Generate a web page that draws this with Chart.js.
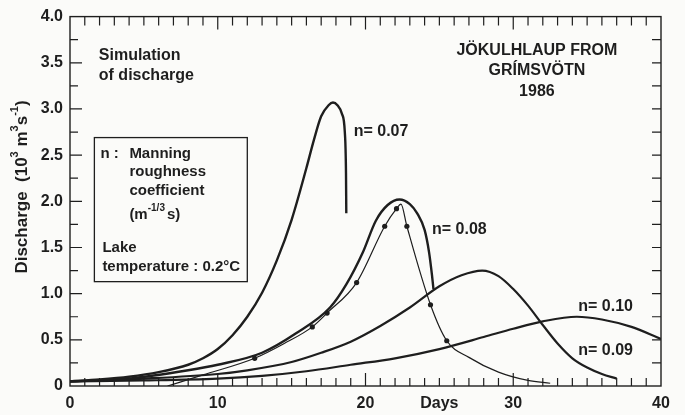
<!DOCTYPE html>
<html>
<head>
<meta charset="utf-8">
<script src="https://cdn.jsdelivr.net/npm/chart.js@4"></script>
<style>
  body { margin: 0; background: #fbfbf9; }
  #wrap { width: 685px; height: 415px; position: relative; }
</style>
</head>
<body>
<div id="wrap"><canvas id="flood"></canvas></div>
<script>
// Simulated discharge (10^3 m3/s) against days, one series per Manning n

const days07 = [0, 2, 4, 6, 8, 9, 10, 11, 12, 13, 14, 15, 16, 16.5, 17, 17.5, 17.8, 18.1, 18.4, 18.6, 18.68, 18.7];
const q07 = [0.05, 0.07, 0.10, 0.15, 0.23, 0.30, 0.40, 0.55, 0.75, 1.01, 1.36, 1.80, 2.36, 2.66, 2.92, 3.04, 3.07, 3.04, 2.95, 2.75, 2.3, 1.87];

const days08 = [0, 4, 8, 10, 13, 15.3, 17.6, 18.7, 19.8, 20.7, 21.5, 22.3, 23, 23.5, 24, 24.3, 24.5, 24.6];
const q08 = [0.05, 0.08, 0.17, 0.23, 0.36, 0.57, 0.85, 1.1, 1.44, 1.79, 1.96, 2.02, 1.97, 1.87, 1.69, 1.45, 1.2, 1.05];

const days09 = [0, 5, 10, 12, 15, 17, 19, 21, 23, 25, 26.5, 27.9, 29, 30, 31, 32, 33, 34, 35, 36, 37];
const q09 = [0.05, 0.08, 0.13, 0.17, 0.26, 0.36, 0.48, 0.65, 0.85, 1.08, 1.2, 1.25, 1.19, 1.05, 0.87, 0.66, 0.46, 0.30, 0.20, 0.13, 0.08];

const days10 = [0, 5, 10, 13, 16, 19, 22, 25, 28, 30, 32, 34.3, 36, 38, 40];
const q10 = [0.05, 0.06, 0.08, 0.11, 0.16, 0.23, 0.30, 0.40, 0.53, 0.62, 0.70, 0.75, 0.72, 0.64, 0.51];

// observed hydrograph (thin line with dots)
const daysObs = [6.6, 9, 12.5, 14.5, 16.4, 17.4, 19.4, 21.3, 22.1, 22.4, 22.8, 24.4, 25.5, 27, 29, 31, 32.5];
const qObs = [0, 0.12, 0.30, 0.46, 0.64, 0.79, 1.12, 1.73, 1.92, 1.97, 1.73, 0.88, 0.49, 0.31, 0.15, 0.06, 0.03];
const obsMarked = [false, false, true, false, true, true, true, true, true, false, true, true, true, false, false, false, false];

const curveLabels = ['n= 0.07', 'n= 0.08', 'n= 0.10', 'n= 0.09'];
const xTickLabels = { 0: '0', 10: '10', 20: '20', 25: 'Days', 30: '30', 40: '40' };

const ink = '#1e1e1e';
const font = '"Liberation Sans", Arial, Helvetica, sans-serif';

function pts(xs, ys) {
  return xs.map((x, i) => ({ x: x, y: ys[i] }));
}

function curve(xs, ys, width) {
  return {
    data: pts(xs, ys),
    borderColor: ink,
    borderWidth: width,
    pointRadius: 0,
    showLine: true,
    cubicInterpolationMode: 'monotone',
    fill: false
  };
}

const obsSet = curve(daysObs, qObs, 1.2);
obsSet.pointRadius = obsMarked.map(m => m ? 2.6 : 0);
obsSet.pointBackgroundColor = ink;
obsSet.pointBorderWidth = 0;

// frame, inward ticks and the annotations
const decor = {
  id: 'decor',
  afterDraw(chart) {
    const ctx = chart.ctx;
    const xs = chart.scales.x, ys = chart.scales.y;
    const a = chart.chartArea;
    ctx.save();
    ctx.strokeStyle = ink;
    ctx.lineWidth = 1.4;
    ctx.strokeRect(a.left, a.top, a.right - a.left, a.bottom - a.top);

    ctx.lineWidth = 1.2;
    ctx.beginPath();
    for (let d = 1; d < 40; d++) {
      const px = xs.getPixelForValue(d);
      const big = d % 10 === 0;
      ctx.moveTo(px, a.bottom); ctx.lineTo(px, a.bottom - (big ? 13 : 8));
      ctx.moveTo(px, a.top); ctx.lineTo(px, a.top + (big ? 13 : 9));
    }
    for (let k = 1; k < 16; k++) {
      const py = ys.getPixelForValue(k * 0.25);
      const big = k % 2 === 0;
      ctx.moveTo(a.left, py); ctx.lineTo(a.left + (big ? 12 : 8), py);
      ctx.moveTo(a.right, py); ctx.lineTo(a.right - 9, py);
    }
    ctx.stroke();

    ctx.fillStyle = ink;
    ctx.textBaseline = 'middle';
    const at = (x, y) => [xs.getPixelForValue(x), ys.getPixelForValue(y)];

    // curve labels
    ctx.font = 'bold 16px ' + font;
    ctx.textAlign = 'left';
    let p = at(19.2, 2.75); ctx.fillText(curveLabels[0], p[0], p[1]);
    p = at(24.5, 1.69); ctx.fillText(curveLabels[1], p[0], p[1]);
    p = at(34.4, 0.86); ctx.fillText(curveLabels[2], p[0], p[1]);
    p = at(34.4, 0.38); ctx.fillText(curveLabels[3], p[0], p[1]);

    // titles
    ctx.font = 'bold 16px ' + font;
    ctx.textAlign = 'center';
    p = at(31.6, 3.63); ctx.fillText('JÖKULHLAUP FROM', p[0], p[1]);
    p = at(31.6, 3.41); ctx.fillText('GRÍMSVÖTN', p[0], p[1]);
    p = at(31.6, 3.19); ctx.fillText('1986', p[0], p[1]);
    ctx.textAlign = 'left';
    ctx.font = 'bold 16px ' + font;
    p = at(1.95, 3.58); ctx.fillText('Simulation', p[0], p[1]);
    p = at(1.95, 3.36); ctx.fillText('of discharge', p[0], p[1]);

    // legend box
    const b0 = at(1.65, 2.69), b1 = at(12.0, 1.13);
    ctx.lineWidth = 1.3;
    ctx.strokeRect(b0[0], b0[1], b1[0] - b0[0], b1[1] - b0[1]);
    ctx.font = 'bold 15px ' + font;
    const bx = b0[0], by = b0[1];
    ctx.fillText('n :', bx + 6, by + 16);
    ctx.fillText('Manning', bx + 35, by + 16);
    ctx.fillText('roughness', bx + 35, by + 34);
    ctx.fillText('coefficient', bx + 35, by + 53);
    let w = bx + 35;
    ctx.fillText('(m', w, by + 77); w += ctx.measureText('(m').width;
    ctx.font = 'bold 10px ' + font;
    ctx.fillText('-1/3', w, by + 71); w += ctx.measureText('-1/3').width + 2;
    ctx.font = 'bold 15px ' + font;
    ctx.fillText('s)', w, by + 77);
    ctx.fillText('Lake', bx + 8, by + 110);
    ctx.fillText('temperature : 0.2°C', bx + 8, by + 129);

    // y axis title with superscripts
    ctx.translate(22, 187);
    ctx.rotate(-Math.PI / 2);
    const parts = [['Discharge  (10', 17, 0], ['3', 11, -7], [' m', 17, 0], ['3', 11, -7], ['s', 17, 0], ['-1', 11, -7], [')', 17, 0]];
    let total = 0;
    parts.forEach(q => { ctx.font = 'bold ' + q[1] + 'px ' + font; total += ctx.measureText(q[0]).width; });
    let cx = -total / 2;
    parts.forEach(q => {
      ctx.font = 'bold ' + q[1] + 'px ' + font;
      ctx.fillText(q[0], cx, q[2]);
      cx += ctx.measureText(q[0]).width;
    });
    ctx.restore();
  }
};

new Chart(document.getElementById('flood'), {
  type: 'scatter',
  data: {
    datasets: [
      curve(days07, q07, 2.4),
      curve(days08, q08, 2.4),
      curve(days09, q09, 2.2),
      curve(days10, q10, 2.2),
      obsSet
    ]
  },
  options: {
    responsive: true,
    maintainAspectRatio: false,
    animation: false,
    layout: { padding: { left: 0, right: 24, top: 16, bottom: 0 } },
    plugins: { legend: { display: false }, tooltip: { enabled: false } },
    scales: {
      x: {
        type: 'linear', min: 0, max: 40,
        afterFit: s => { s.height = 29; },
        grid: { display: false, drawTicks: false },
        border: { display: false },
        ticks: {
          stepSize: 5, autoSkip: false, maxRotation: 0, padding: 8,
          color: ink, font: { family: font, size: 16, weight: 'bold' },
          callback: v => xTickLabels[v] !== undefined ? xTickLabels[v] : ''
        }
      },
      y: {
        type: 'linear', min: 0, max: 4,
        afterFit: s => { s.width = 70; },
        grid: { display: false, drawTicks: false },
        border: { display: false },
        ticks: {
          stepSize: 0.5, padding: 7,
          color: ink, font: { family: font, size: 16, weight: 'bold' },
          callback: v => v === 0 ? '0' : v.toFixed(1)
        }
      }
    }
  },
  plugins: [decor]
});
</script>
</body>
</html>
